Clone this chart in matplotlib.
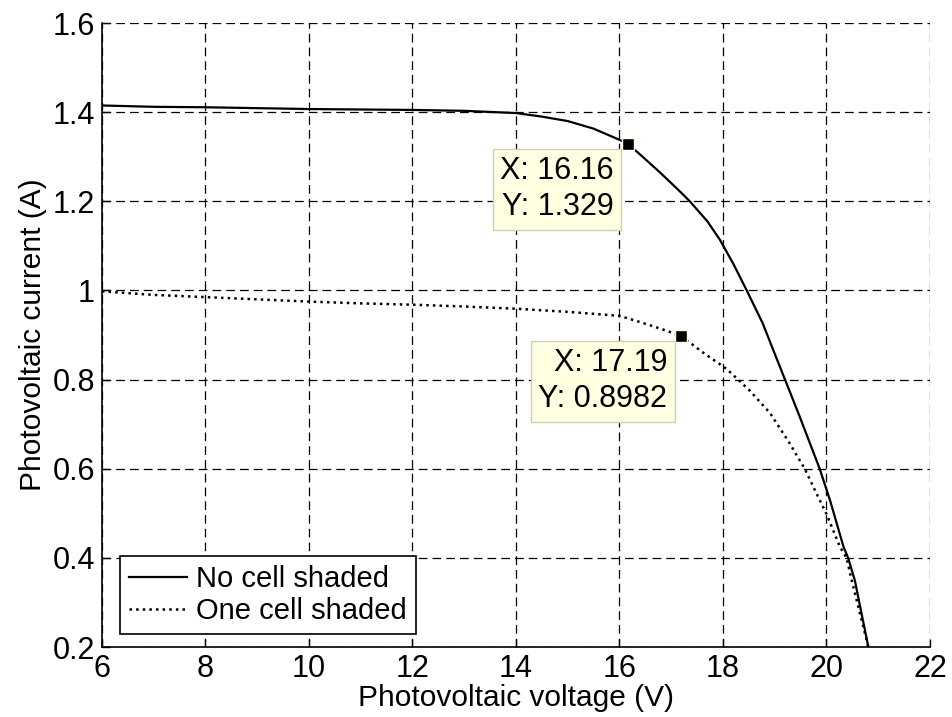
import matplotlib
matplotlib.use('Agg')
import matplotlib.pyplot as plt

# Kennlinien (Spannung V, Strom A)
v_ohne = [6.0, 7.0, 8.0, 9.0, 10.0, 11.0, 12.0, 13.0, 14.0, 14.5, 15.0, 15.5, 16.0, 16.16,
          16.4, 16.8, 17.17, 17.36, 17.7, 17.94, 18.2, 18.46, 18.77, 18.97, 19.2, 19.48,
          19.87, 20.07, 20.33, 20.42, 20.55, 20.81]
i_ohne = [1.415, 1.412, 1.411, 1.409, 1.407, 1.406, 1.405, 1.403, 1.398, 1.39, 1.38, 1.363,
          1.338, 1.329, 1.305, 1.263, 1.222, 1.2, 1.155, 1.114, 1.06, 1.0, 0.926, 0.867, 0.8,
          0.718, 0.6, 0.529, 0.425, 0.4, 0.349, 0.2]

v_schatten = [6.0, 7.0, 8.0, 9.0, 10.0, 11.0, 12.0, 13.0, 14.0, 15.0, 16.0, 16.4, 16.8, 17.19,
              17.6, 18.07, 18.33, 18.52, 18.91, 19.29, 19.58, 19.81, 20.0, 20.26, 20.39,
              20.49, 20.81]
i_schatten = [0.998, 0.99, 0.985, 0.98, 0.975, 0.971, 0.968, 0.964, 0.959, 0.952, 0.943,
              0.929, 0.914, 0.898, 0.862, 0.824, 0.796, 0.775, 0.725, 0.657, 0.6, 0.544,
              0.499, 0.425, 0.4, 0.349, 0.2]

etykiety = ["No cell shaded", "One cell shaded"]
tip_x = [16.16, 17.19]
tip_y = [1.329, 0.8982]
tip_tekst = ["X: 16.16\nY: 1.329", "X: 17.19\nY: 0.8982"]

plt.rcParams['font.family'] = ['Liberation Sans', 'DejaVu Sans']

fig = plt.figure(figsize=(9.52, 7.17), dpi=100)
ax = fig.add_axes([0.1071, 0.0976, 0.8697, 0.8703])

ax.plot(v_ohne, i_ohne, '-', color='black', lw=1.6, label=etykiety[0])
ax.plot(v_schatten, i_schatten, ':', color='black', lw=1.8, label=etykiety[1])

for x, y, t in zip(tip_x, tip_y, tip_tekst):
    ax.plot(x, y, 's', color='black', markeredgecolor='#ffffe1', markersize=9, mew=1, zorder=5)
    ax.annotate(t, xy=(x, y), xytext=(-10, -9), textcoords='offset points',
                ha='right', va='top', multialignment='right', fontsize=22, zorder=6,
                linespacing=1.25,
                bbox=dict(boxstyle='square,pad=0.25', fc='#ffffe1', ec='#cfcfb8', lw=1))

ax.set_xlim(6, 22)
ax.set_ylim(0.2, 1.6)
ax.set_xticks(range(6, 23, 2))
ax.set_yticks([0.2, 0.4, 0.6, 0.8, 1.0, 1.2, 1.4, 1.6])
ax.set_yticklabels(['0.2', '0.4', '0.6', '0.8', '1', '1.2', '1.4', '1.6'])
ax.grid(True, linestyle=(0, (7, 4)), color='black', linewidth=0.9)
ax.spines['top'].set_visible(False)
ax.spines['right'].set_visible(False)
ax.spines['left'].set_linewidth(1.2)
ax.spines['bottom'].set_linewidth(1.2)
ax.tick_params(direction='in', length=6, width=1, labelsize=22, pad=5)
ax.set_xlabel("Photovoltaic voltage (V)", fontsize=21.5, labelpad=0)
ax.set_ylabel("Photovoltaic current (A)", fontsize=21.5, labelpad=4)

leg = ax.legend(loc='lower left', bbox_to_anchor=(0.022, 0.021), borderaxespad=0,
                fontsize=21, handlelength=2.0, handletextpad=0.3, labelspacing=0.15,
                borderpad=0.3, fancybox=False, framealpha=1, edgecolor='black')
leg.get_frame().set_linewidth(1.2)

plt.savefig("out.png", dpi=100)
